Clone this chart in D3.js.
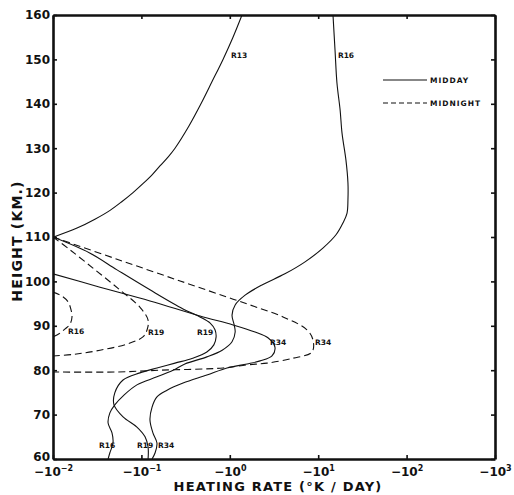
<!DOCTYPE html>
<html>
<head>
<meta charset="utf-8">
<script src="https://cdn.jsdelivr.net/npm/d3@7"></script>
<style>
  body { margin: 0; background: #fff; }
  text { font-family: 'DejaVu Sans', sans-serif; font-weight: bold; fill: #111; }
</style>
</head>
<body>
<svg id="chart" width="514" height="495"></svg>
<script>
// Heating rate (K/day, negative = cooling) vs height (km)

const X_TICKS = [-0.01, -0.1, -1, -10, -100, -1000];
const X_TICK_EXP = ['\u22122', '\u22121', '0', '1', '2', '3'];
const Y_TICKS = d3.range(60, 161, 10);

// midday profiles
const r13DayHeight = [160, 155, 150, 145, 140, 135, 130, 128, 126, 124, 122, 120, 118, 116, 114, 112, 110];
const r13DayRate   = [-1.374, -1.087, -0.838, -0.630, -0.472, -0.345, -0.240, -0.200, -0.162, -0.132, -0.104,
                      -0.0804, -0.0604, -0.0442, -0.0298, -0.0187, -0.0102];

const r16DayHeight = [160, 152.1, 144.7, 138.6, 133.4, 127.3, 122.2, 118.3, 115.4, 113.2, 110.5, 107.5, 104.4, 101.7,
                      99.2, 96.9, 94.7, 92.4, 90.2, 88.6, 86.4, 84.5, 83, 81.4, 80, 78.5, 76.7, 74.4, 72.2,
                      70.4, 68.1, 65.9, 63.6, 61.4, 60];
const r16DayRate   = [-14.7, -15.5, -16.3, -17.7, -18.6, -20.6, -21.7, -21.7, -21.2, -19.1, -15.9, -11.3, -7.1, -4.2,
                      -2.31, -1.49, -1.15, -1.06, -1.12, -1.15, -1.06, -0.82, -0.55, -0.31, -0.228, -0.150, -0.089, -0.0635, -0.050,
                      -0.044, -0.042, -0.0465, -0.0477, -0.044, -0.042];

const r19DayHeight = [110, 106.4, 102.6, 98.1, 93.8, 92, 90.6, 89.1, 87.5, 85.7, 84.1, 82.7, 81.6, 80.5, 79.4,
                      77.8, 74.9, 72.2, 69.5, 67.2, 65, 62.7, 60];
const r19DayRate   = [-0.010, -0.026, -0.053, -0.125, -0.296, -0.46, -0.60, -0.68, -0.70, -0.66, -0.55, -0.38, -0.24, -0.15, -0.096,
                      -0.062, -0.050, -0.049, -0.062, -0.089, -0.110, -0.119, -0.119];

const r34DayHeight = [101.7, 98.7, 95.6, 92.2, 90.2, 88.6, 87.3, 85.2, 83.2, 82.1, 81.4, 80.5, 78.9, 77.1, 75.5,
                      74, 71.7, 68.8, 65.9, 63.6, 61.4, 60];
const r34DayRate   = [-0.010, -0.034, -0.125, -0.46, -1.09, -1.93, -2.70, -3.24, -3.00, -2.20, -1.57, -0.93, -0.55, -0.296, -0.195,
                      -0.150, -0.132, -0.125, -0.135, -0.150, -0.143, -0.132];

// midnight profiles
const r16NightHeight = [97.6, 96.7, 95.4, 93.6, 92, 90.4, 89.3, 88.2, 87.5];
const r16NightRate   = [-0.0100, -0.0126, -0.0148, -0.0160, -0.0164, -0.0156, -0.0137, -0.0117, -0.0100];

const r19NightHeight = [110, 107.1, 102.6, 98.1, 94.2, 91.3, 89.1, 87.5, 85.9, 84.5, 83.6, 83.2];
const r19NightRate   = [-0.0100, -0.0156, -0.030, -0.057, -0.096, -0.119, -0.116, -0.104, -0.069, -0.034, -0.0177, -0.0100];

const r34NightHeight = [110, 105, 100.1, 96, 94.7, 92, 89.1, 86.8, 84.1, 82.7, 81.6, 81.2, 80.5, 80, 79.6, 79.6];
const r34NightRate   = [-0.0100, -0.053, -0.274, -1.09, -1.69, -4.0, -7.46, -8.73, -8.51, -5.19, -2.64, -1.57, -0.84, -0.162, -0.053, -0.0100];

// curve labels
const labelText   = ['R13', 'R16', 'R16', 'R19', 'R19', 'R34', 'R34', 'R16', 'R19', 'R34'];
const labelRate   = [-1.03, -16.7, -0.0148, -0.119, -0.425, -2.85, -9.2, -0.0331, -0.089, -0.154];
const labelHeight = [150.3, 150.3, 88.2, 87.9, 87.9, 85.7, 85.7, 62.5, 62.5, 62.5];

const curves = [
  { kind: 'day',   h: r13DayHeight,   r: r13DayRate },
  { kind: 'day',   h: r16DayHeight,   r: r16DayRate },
  { kind: 'day',   h: r19DayHeight,   r: r19DayRate },
  { kind: 'day',   h: r34DayHeight,   r: r34DayRate },
  { kind: 'night', h: r16NightHeight, r: r16NightRate },
  { kind: 'night', h: r19NightHeight, r: r19NightRate },
  { kind: 'night', h: r34NightHeight, r: r34NightRate },
];

const M = { left: 53, right: 495, top: 15, bottom: 459 };
const svg = d3.select('#chart');

const x = d3.scaleLog().domain([-0.01, -1000]).range([M.left, M.right]);
const y = d3.scaleLinear().domain([60, 160]).range([M.bottom, M.top]);

svg.append('defs').append('clipPath').attr('id', 'plot-clip')
  .append('rect')
  .attr('x', M.left).attr('y', M.top)
  .attr('width', M.right - M.left).attr('height', M.bottom - M.top);

const line = d3.line()
  .x(d => x(d[1]))
  .y(d => y(d[0]))
  .curve(d3.curveCatmullRom.alpha(0.5));

const curveLayer = svg.append('g').attr('clip-path', 'url(#plot-clip)');
curveLayer.selectAll('path.curve')
  .data(curves)
  .enter()
  .append('path')
  .attr('class', 'curve')
  .attr('d', d => line(d3.zip(d.h, d.r)))
  .attr('fill', 'none')
  .attr('stroke', '#111')
  .attr('stroke-width', 1.1)
  .attr('stroke-dasharray', d => d.kind === 'night' ? '7,4' : null);

// axes, ticks pointing inward
const axisStyle = g => {
  g.select('.domain').attr('stroke', '#111').attr('stroke-width', 2.6);
  g.selectAll('.tick line').attr('stroke', '#111').attr('stroke-width', 1.6);
};

const xBottom = svg.append('g')
  .attr('transform', `translate(0,${M.bottom})`)
  .call(d3.axisBottom(x).tickValues(X_TICKS).tickSize(-4).tickSizeOuter(0).tickPadding(6).tickFormat(''))
  .call(axisStyle);

xBottom.selectAll('.tick text')
  .attr('font-size', 12)
  .attr('dy', '0.95em')
  .each(function(d, i) {
    const t = d3.select(this);
    t.append('tspan').text('\u221210');
    t.append('tspan').attr('dy', -5).attr('font-size', 8).text(X_TICK_EXP[i]);
  });

svg.append('g')
  .attr('transform', `translate(0,${M.top})`)
  .call(d3.axisTop(x).tickValues(X_TICKS).tickSize(-4).tickSizeOuter(0).tickFormat(''))
  .call(axisStyle);

svg.append('g')
  .attr('transform', `translate(${M.left},0)`)
  .call(d3.axisLeft(y).tickValues(Y_TICKS).tickSize(-4).tickSizeOuter(0).tickPadding(3))
  .call(axisStyle)
  .selectAll('.tick text')
  .attr('font-size', 12)
  .attr('dy', d => d === 60 ? '0.15em' : '0.32em');

svg.append('g')
  .attr('transform', `translate(${M.right},0)`)
  .call(d3.axisRight(y).tickValues(Y_TICKS).tickSize(-4).tickSizeOuter(0).tickFormat(''))
  .call(axisStyle);

// curve labels
svg.append('g').selectAll('text')
  .data(labelText)
  .enter()
  .append('text')
  .attr('x', (d, i) => x(labelRate[i]))
  .attr('y', (d, i) => y(labelHeight[i]))
  .attr('font-size', 7.5)
  .text(d => d);

// legend
const legend = svg.append('g');
[['MIDDAY', null, 80], ['MIDNIGHT', '5,3', 103]].forEach(([name, dash, ly]) => {
  legend.append('line')
    .attr('x1', 383).attr('x2', 427).attr('y1', ly).attr('y2', ly)
    .attr('stroke', '#111').attr('stroke-width', 1.1)
    .attr('stroke-dasharray', dash);
  legend.append('text')
    .attr('x', 430).attr('y', ly + 3)
    .attr('font-size', 7.5)
    .attr('letter-spacing', 1)
    .text(name);
});

// axis titles
svg.append('text')
  .attr('x', 278).attr('y', 491)
  .attr('text-anchor', 'middle')
  .attr('font-size', 13)
  .attr('letter-spacing', 1.2)
  .text('HEATING RATE (\u00B0K / DAY)');

svg.append('text')
  .attr('transform', 'translate(22,241) rotate(-90)')
  .attr('text-anchor', 'middle')
  .attr('font-size', 14)
  .attr('letter-spacing', 1.2)
  .text('HEIGHT (KM.)');
</script>
</body>
</html>
